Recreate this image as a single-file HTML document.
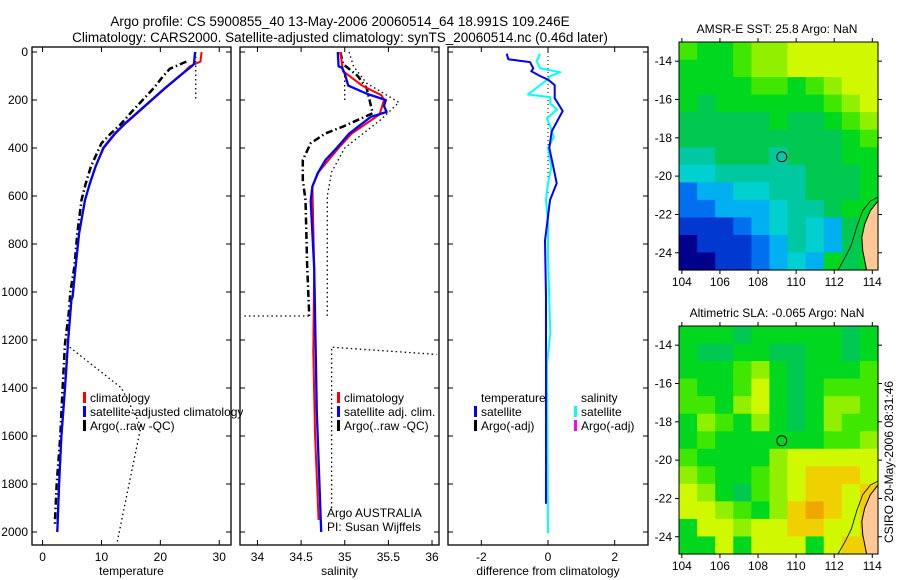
<!DOCTYPE html>
<html><head><meta charset="utf-8">
<style>
html,body{margin:0;padding:0;background:#fff;}
svg{display:block;font-family:"Liberation Sans",sans-serif;}
</style></head>
<body>
<svg id="fig" width="900" height="580" viewBox="0 0 900 580" xmlns="http://www.w3.org/2000/svg">
<text x="340" y="26" font-size="13.5" text-anchor="middle">Argo profile: CS 5900855_40 13-May-2006 20060514_64 18.991S 109.246E</text>
<text x="340" y="42" font-size="13.5" text-anchor="middle">Climatology: CARS2000. Satellite-adjusted climatology: synTS_20060514.nc (0.46d later)</text>
<g id="plots"></g>
</svg>
<script>
// ---- data ----
const depthTicks=[0,200,400,600,800,1000,1200,1400,1600,1800,2000];
const tempTicks=[0,10,20,30];
const salTicks=[34,34.5,35,35.5,36];
const diffTicks=[-2,0,2];
const tClimD=[0,40,60,103,150,200,250,300,339,400,477,550,617,756,895,1020,1033,1200,1400,1600,1800,2000];
const tClimV=[27.0,26.8,25.0,23.2,20.9,18.6,16.3,14.0,12.4,10.4,9.0,8.0,7.2,6.2,5.6,5.1,4.9,4.35,3.8,3.2,2.8,2.5];
const tSatD=[0,50,60,103,150,200,250,300,339,400,477,550,617,756,895,1020,1033,1200,1400,1600,1800,2000];
const tSatV=[25.9,25.7,25.3,23.1,20.8,18.5,16.2,13.9,12.3,10.3,9.0,8.0,7.2,6.2,5.6,5.1,4.9,4.35,3.8,3.2,2.8,2.5];
const tArgoD=[40,70,103,150,200,250,300,339,380,477,550,617,756,895,1000,1075,1215,1400,1600,1800,1950,1970];
const tArgoV=[24.4,21.6,20.4,18.9,17.0,15.1,13.3,11.6,10.0,8.2,7.3,6.6,5.9,5.4,4.7,4.5,3.8,3.4,3.0,2.4,2.1,2.1];
const tStdAD=[0,200];
const tStdAV=[26.0,26.0];
const tStdBD=[1230,1400,1560,2050];
const tStdBV=[4.6,13.4,16.7,12.6];
const sClimD=[0,80,140,180,200,260,340,400,500,560,900,1250,1600,1950];
const sClimV=[34.95,34.98,35.2,35.42,35.45,35.4,35.08,34.93,34.7,34.63,34.65,34.64,34.66,34.7];
const sSatD=[0,60,65,90,115,140,175,200,225,250,270,340,395,450,505,560,620,900,1500,2000];
const sSatV=[34.92,34.93,34.97,35.0,35.02,35.04,35.26,35.47,35.45,35.48,35.3,35.05,34.92,34.78,34.69,34.63,34.61,34.65,34.68,34.73];
const sArgoD=[0,50,100,150,255,311,339,380,450,533,617,894,1075,1100];
const sArgoV=[34.95,34.98,35.15,35.25,35.32,34.98,34.78,34.61,34.52,34.52,34.55,34.57,34.59,34.59];
const sStdAD=[0,60,130,210,280,400,500,600,1100];
const sStdAV=[35.05,35.1,35.25,35.62,35.42,35.0,34.85,34.8,34.8];
const sStdBD=[100,200];
const sStdBV=[35.0,35.0];
const sStdCD=[1100,1100];
const sStdCV=[33.85,34.6];
const sStdDD=[1900,1230,1260];
const sStdDV=[34.85,34.85,36.05];
const dTD=[7,30,42,68,80,100,115,138,192,246,331,400,478,547,617,709,786,1018,1250,1882];
const dTV=[-1.24,-1.19,-0.54,-0.44,-0.5,-0.24,0,0.2,0.2,0.44,0.11,0.04,0.16,0.26,0.06,-0.02,-0.09,-0.06,-0.06,-0.06];
const dSD=[7,38,68,84,100,115,177,188,215,239,277,310,354,400,478,547,617,709,850,1172,1300,2005];
const dSV=[-0.24,-0.34,-0.24,0.37,0.07,-0.02,-0.6,0.07,0.07,0.27,-0.03,0.07,0.17,0,0.1,0,-0.06,0,0,0.07,-0.03,0];
const lonTicks=[104,106,108,110,112,114];
const latTicks=[-14,-16,-18,-20,-22,-24];
const sstGrid=["ihhijjkkkkk","hhhijjkkkkk","hhhhiihijkk","hghhhhhhijk","ggggghgghij","ggggggggghi","ffgggfggghh","eefffffgggh","cddeeffgggh","ccdddeffghh","bbbcdefedgh","abbbcdfedgh","aabbcdedhgh"];
const slaGrid=["hhhghhhhhgh","hgghhgghhgh","hhhijhghhhi","ihhikhghiii","iihjkhghjji","hjihjhghjii","hihhhhhhiij","ihhhhjkkkkk","jihhijklllk","kjhgijkllkl","kkjihjlmlkl","hkkjkkllkkl","hhkhkkkhkll"];
const profLat=-18.991, profLon=109.246;
// ---- helpers ----
const NS="http://www.w3.org/2000/svg";
const root=document.getElementById('plots');
function mk(tag,attrs,parent){const e=document.createElementNS(NS,tag);for(const k in attrs)e.setAttribute(k,attrs[k]);(parent||root).appendChild(e);return e;}
const Y0=52, YS=0.24;
function yD(d){return Y0+d*YS;}
function panel(name,x0,x1,vmin,vmax){return {name,x0,x1,fx:v=>x0+(v-vmin)/(vmax-vmin)*(x1-x0)};}
const P1=panel('temperature',32,231,-1.8,32);
const P2=panel('salinity',240,439,33.8,36.08);
const P3=panel('difference',448,648,-3,3);
function frame(P,xt,xlabel,fmt){
  const g=mk('g',{});
  
  
  const r=mk('rect',{x:P.x0,y:Y0-5,width:P.x1-P.x0,height:545-(Y0-5),fill:'none',stroke:'#000','stroke-width':1.3},g);
  
  
  xt.forEach(v=>{const x=P.fx(v);
    mk('line',{x1:x,x2:x,y1:545,y2:540,stroke:'#000'},g);
    mk('line',{x1:x,x2:x,y1:Y0-5,y2:Y0,stroke:'#000'},g);
    const t=mk('text',{x:x,y:561,'font-size':12,'text-anchor':'middle'},g);t.textContent=fmt(v);
    
    
  });
  depthTicks.forEach(d=>{const y=yD(d);
    mk('line',{x1:P.x0,x2:P.x0+5,y1:y,y2:y,stroke:'#000'},g);
    mk('line',{x1:P.x1,x2:P.x1-5,y1:y,y2:y,stroke:'#000'},g);
  });
  const xl=mk('text',{x:(P.x0+P.x1)/2,y:575,'font-size':12,'text-anchor':'middle'},g);xl.textContent=xlabel;
  
  
}
function series(P,D,V,color,w,dash,name){
  const pts=D.map((d,i)=>P.fx(V[i]).toFixed(1)+','+yD(d).toFixed(1)).join(' ');
  const l=mk('polyline',{points:pts,fill:'none',stroke:color,'stroke-width':w,'stroke-dasharray':dash||'none','stroke-linejoin':'round'});
  
  
}
function legend(x,y,items){
  items.forEach((it,i)=>{
    if(it.c){const m=mk('rect',{x:x,y:y+i*14-10,width:3,height:11,fill:it.c});
      
      }
    const t=mk('text',{x:x+7,y:y+i*14,'font-size':12});t.textContent=it.t;
    
    
  });
}
frame(P1,tempTicks,'temperature',v=>String(v));
frame(P2,salTicks,'salinity',v=>String(v));
frame(P3,diffTicks,'difference from climatology',v=>String(v));
depthTicks.forEach(d=>{const t=mk('text',{x:28,y:yD(d)+4,'font-size':12,'text-anchor':'end'});t.textContent=d;
  
  });
// temperature
series(P1,tStdAD,tStdAV,'#000',1.3,'1.5,3','temp-std-dotted-upper');
series(P1,tStdBD,tStdBV,'#000',1.3,'1.5,3','temp-std-dotted-lower');
series(P1,tArgoD,tArgoV,'#000',2.5,'7,3,1.5,3','temp-argo-line');
series(P1,tClimD,tClimV,'#f00',2,'','temp-climatology-line');
series(P1,tSatD,tSatV,'#00f',2.3,'','temp-satellite-line');
legend(83,402,[{c:'#f00',t:'climatology'},{c:'#00f',t:'satellite-adjusted climatology'},{c:'#000',t:'Argo(..raw -QC)'}]);
// salinity
series(P2,sStdAD,sStdAV,'#000',1.3,'1.5,3','sal-std-dotted-a');
series(P2,sStdBD,sStdBV,'#000',1.3,'1.5,3','sal-std-dotted-b');
series(P2,sStdCD,sStdCV,'#000',1.3,'1.5,3','sal-std-dotted-c');
series(P2,sStdDD,sStdDV,'#000',1.3,'1.5,3','sal-std-dotted-d');
series(P2,sArgoD,sArgoV,'#000',2.5,'7,3,1.5,3','sal-argo-line');
series(P2,sClimD,sClimV,'#f00',2,'','sal-climatology-line');
series(P2,sSatD,sSatV,'#00f',2.3,'','sal-satellite-line');
legend(337,402,[{c:'#f00',t:'climatology'},{c:'#00f',t:'satellite adj. clim.'},{c:'#000',t:'Argo(..raw -QC)'}]);
{const t=mk('text',{x:327,y:517,'font-size':12});t.textContent='Argo AUSTRALIA';
 
 
 const t2=mk('text',{x:327,y:531,'font-size':12});t2.textContent='PI: Susan Wijffels';
 
 }
// difference
series(P3,[0,600],[0,0],'#000',1,'1,3','zero-dotted-line');
series(P3,dSD,dSV,'#0ff',2,'','sal-diff-satellite-line');
series(P3,dTD,dTV,'#00f',2,'','temp-diff-satellite-line');
legend(474,402,[{t:'temperature'},{c:'#00f',t:'satellite'},{c:'#000',t:'Argo(-adj)'}]);
legend(574,402,[{t:'salinity'},{c:'#0ff',t:'satellite'},{c:'#f0f',t:'Argo(-adj)'}]);
// maps
const pal={a:'#00008c',b:'#0038d0',c:'#0070f0',d:'#00b0f0',e:'#00d0d0',f:'#00c8a0',g:'#00c850',h:'#00d820',i:'#40e800',j:'#90f000',k:'#d0f800',l:'#f0d000',m:'#f0a800'};
function map(name,top,title,grid){
  const x0=679,x1=878,y0=top,y1=top+228;
  const lonMin=103.85,lonMax=114.3,latMax=-13,latMin=-24.9;
  const fx=lo=>x0+(lo-lonMin)/(lonMax-lonMin)*(x1-x0);
  const fy=la=>y0+(latMax-la)/(latMax-latMin)*(y1-y0);
  const g=mk('g',{});
  
  
  const cw=(x1-x0)/grid[0].length,ch=(y1-y0)/grid.length;
  grid.forEach((row,r)=>{[...row].forEach((c,k)=>{
    mk('rect',{x:x0+k*cw,y:y0+r*ch,width:cw+0.6,height:ch+0.6,fill:pal[c]},g);});});
  const land=[[114.3,-21.3],[113.9,-21.8],[113.6,-22.5],[113.45,-23.2],[113.5,-23.9],[113.7,-24.9],[114.3,-24.9]];
  const lp=mk('polygon',{points:land.map(p=>fx(p[0])+','+fy(p[1])).join(' '),fill:'#ffc896',stroke:'#000','stroke-width':1},g);
  
  
  const coast=[[112.2,-24.9],[112.6,-24.2],[112.9,-23.6],[113.2,-22.6],[113.5,-21.8],[113.9,-21.3],[114.3,-21.1]];
  mk('polyline',{points:coast.map(p=>fx(p[0])+','+fy(p[1])).join(' '),fill:'none',stroke:'#000','stroke-width':0.8},g);
  mk('rect',{x:x0,y:y0,width:x1-x0,height:y1-y0,fill:'none',stroke:'#000'},g);
  const c=mk('circle',{cx:fx(profLon),cy:fy(profLat),r:5,fill:'none',stroke:'#000'},g);
  
  
  lonTicks.forEach(lo=>{const x=fx(lo);
    mk('line',{x1:x,x2:x,y1:y1,y2:y1+4,stroke:'#000'},g);
    mk('line',{x1:x,x2:x,y1:y0,y2:y0-4,stroke:'#000'},g);
    const t=mk('text',{x:x,y:y1+16,'font-size':12,'text-anchor':'middle'},g);t.textContent=lo;
    
    });
  latTicks.forEach(la=>{const y=fy(la);
    mk('line',{x1:x0,x2:x0-4,y1:y,y2:y,stroke:'#000'},g);
    mk('line',{x1:x1,x2:x1+4,y1:y,y2:y,stroke:'#000'},g);
    const t=mk('text',{x:x0-7,y:y+4,'font-size':12,'text-anchor':'end'},g);t.textContent=la;
    
    });
  const t=mk('text',{x:777,y:top-9,'font-size':12,'text-anchor':'middle'},g);t.textContent=title;
  
  
}
map('sst-map',42,'AMSR-E SST: 25.8 Argo: NaN',sstGrid);
map('sla-map',326,'Altimetric SLA: -0.065 Argo: NaN',slaGrid);
{const t=mk('text',{x:0,y:0,'font-size':12,'text-anchor':'middle',transform:'translate(893,462) rotate(-90)'});
 t.textContent='CSIRO 20-May-2006 08:31:46';
 
 }
</script>
</body></html>
